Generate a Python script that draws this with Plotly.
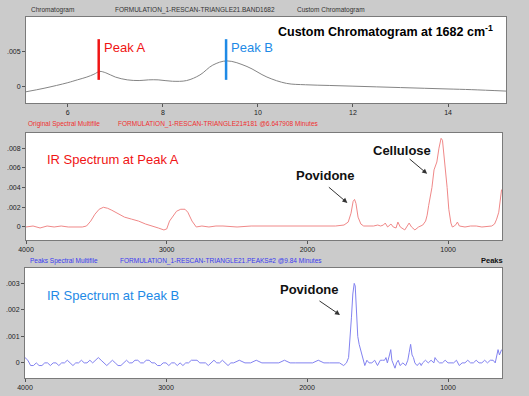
import plotly.graph_objects as go

W, H = 529, 396

# ---------------- data ----------------
chrom_time = [5.12, 5.5, 6.0, 6.2, 6.4, 6.55, 6.67, 6.8, 7.0, 7.25, 7.5, 7.7, 7.9, 8.2, 8.5, 8.78,
              9.05, 9.35, 9.77, 10.19, 10.6, 11.0, 11.5, 12.0, 12.5, 13.0, 13.5, 14.0, 14.5, 15.22]
chrom_abs = [-0.0008, -0.0003, 0.0005, 0.0009, 0.0013, 0.0017, 0.0021, 0.0019, 0.0013, 0.0009, 0.0008,
             0.0009, 0.0009, 0.0007, 0.0008, 0.0016, 0.0030, 0.0036, 0.0028, 0.0013, 0.0004, 0.0002,
             0.0001, 0.0000, -0.0001, -0.0002, -0.0003, -0.0004, -0.0005, -0.0007]

peak_labels = ["Peak A", "Peak B"]
peak_times = [6.65, 9.33]
peak_colors = ["#f01414", "#1e8ae6"]
peak_marker_lo, peak_marker_hi = 0.0009, 0.0067

specA_wn = [4000, 3950, 3900, 3850, 3800, 3750, 3700, 3650, 3600, 3570, 3540, 3510, 3480, 3450, 3420,
            3390, 3350, 3300, 3250, 3200, 3150, 3100, 3060, 3020, 3000, 2980, 2960, 2930, 2900, 2870,
            2850, 2820, 2790, 2750, 2700, 2650, 2600, 2500, 2400, 2300, 2200, 2100, 2000, 1900, 1800,
            1740, 1710, 1690, 1675, 1665, 1655, 1640, 1620, 1600, 1560, 1530, 1500, 1480, 1460, 1447,
            1430, 1406, 1390, 1370, 1357, 1340, 1308, 1290, 1277, 1260, 1236, 1210, 1180, 1160, 1149,
            1138, 1128, 1115, 1100, 1092, 1080, 1065, 1050, 1040, 1030, 1015, 1007, 995, 980, 970,
            955, 942, 934, 920, 880, 840, 800, 760, 720, 690, 670, 655, 640, 630, 620]
specA_abs = [0.0000, 0.0001, -0.0001, 0.0001, 0.0000, 0.0001, 0.0000, 0.0000, 0.0000, 0.0001, 0.0006,
             0.0013, 0.0018, 0.0020, 0.0019, 0.0017, 0.0014, 0.0010, 0.0008, 0.0006, 0.0003, 0.0001,
             -0.0001, -0.0003, -0.0002, 0.0006, 0.0010, 0.0016, 0.0018, 0.0018, 0.0015, 0.0006, 0.0000,
             0.0001, 0.0000, 0.0001, 0.0001, 0.0000, 0.0001, 0.0001, 0.0001, 0.0001, 0.0001, 0.0001,
             0.0001, 0.0002, 0.0005, 0.0014, 0.0026, 0.0028, 0.0024, 0.0010, 0.0003, 0.0001, 0.0001,
             0.0001, 0.0002, 0.0001, 0.0002, 0.0004, 0.0000, 0.0003, 0.0000, -0.0001, 0.0005, 0.0000,
             -0.0003, 0.0001, 0.0004, 0.0000, -0.0003, 0.0000, 0.0002, 0.0006, 0.0012, 0.0022, 0.0030,
             0.0040, 0.0058, 0.0062, 0.0066, 0.0080, 0.0090, 0.0088, 0.0075, 0.0055, 0.0040, 0.0018,
             0.0004, 0.0000, 0.0001, 0.0003, 0.0005, 0.0001, 0.0000, 0.0001, 0.0001, 0.0000, 0.0001,
             0.0001, 0.0003, 0.0008, 0.0015, 0.0025, 0.0038]

specB_wn = [4000, 3980, 3960, 3940, 3920, 3900, 3880, 3860, 3840, 3820, 3800, 3780, 3760, 3740, 3720,
            3700, 3680, 3660, 3640, 3620, 3600, 3580, 3560, 3540, 3520, 3500, 3480, 3460, 3440, 3420,
            3400, 3380, 3360, 3340, 3320, 3300, 3280, 3260, 3240, 3220, 3200, 3180, 3160, 3140, 3120,
            3100, 3080, 3060, 3040, 3020, 3000, 2980, 2960, 2940, 2920, 2900, 2880, 2860, 2840, 2820,
            2800, 2780, 2760, 2740, 2720, 2700, 2680, 2660, 2640, 2620, 2600, 2580, 2560, 2540, 2520,
            2480, 2440, 2400, 2360, 2320, 2280, 2240, 2200, 2160, 2120, 2080, 2040, 2000, 1960, 1920,
            1880, 1840, 1800, 1770, 1740, 1720, 1705, 1695, 1685, 1675, 1665, 1658, 1650, 1640, 1630,
            1620, 1610, 1600, 1590, 1575, 1560, 1540, 1520, 1500, 1480, 1465, 1450, 1440, 1430, 1415,
            1406, 1398, 1385, 1376, 1365, 1353, 1340, 1320, 1300, 1285, 1275, 1265, 1255, 1245, 1235,
            1220, 1200, 1190, 1180, 1160, 1140, 1120, 1100, 1092, 1080, 1060, 1040, 1020, 1000, 980,
            960, 940, 920, 900, 880, 860, 840, 820, 800, 780, 760, 740, 720, 700, 680, 665, 655,
            645, 635, 625, 620]
specB_abs = [0.0002, 0.0001, -0.0001, -0.0001, 0.0000, -0.0001, -0.0001, 0.0000, 0.0000, -0.0001,
             0.0000, 0.0000, -0.0001, 0.0000, 0.0000, 0.0001, 0.0000, -0.0001, 0.0000, 0.0000, 0.0001,
             0.0000, 0.0000, 0.0001, 0.0000, 0.0001, 0.0002, 0.0001, 0.0000, -0.0001, 0.0000, 0.0001,
             0.0000, -0.0001, -0.0001, 0.0000, 0.0001, 0.0000, 0.0000, 0.0001, 0.0001, 0.0000, 0.0000,
             0.0001, 0.0001, 0.0000, 0.0000, -0.0001, -0.0001, 0.0000, 0.0000, -0.0001, 0.0000, 0.0000,
             -0.0001, 0.0000, -0.0001, 0.0000, 0.0000, 0.0001, 0.0001, 0.0001, 0.0000, 0.0000, 0.0000,
             -0.0001, 0.0000, 0.0001, 0.0000, 0.0000, 0.0001, 0.0000, -0.0001, 0.0000, 0.0000, 0.0001,
             0.0000, 0.0000, 0.0001, 0.0000, 0.0000, 0.0000, 0.0000, 0.0001, 0.0000, 0.0000, 0.0000,
             0.0000, 0.0000, 0.0001, 0.0000, 0.0000, 0.0000, 0.0000, -0.0001, 0.0000, 0.0002, 0.0008,
             0.0017, 0.0026, 0.0030, 0.0029, 0.0020, 0.0010, 0.0007, 0.0005, 0.0002, 0.0000, -0.0001,
             0.0001, 0.0000, 0.0000, 0.0001, -0.0001, 0.0001, 0.0001, 0.0001, 0.0002, 0.0000, 0.0003,
             0.0005, 0.0001, -0.0001, -0.0002, 0.0000, 0.0001, -0.0001, 0.0000, -0.0001, 0.0001, 0.0004,
             0.0007, 0.0003, 0.0002, 0.0000, -0.0001, 0.0000, -0.0001, 0.0000, 0.0001, 0.0000, 0.0001,
             0.0000, 0.0002, 0.0001, 0.0000, 0.0000, 0.0001, 0.0000, 0.0000, 0.0000, 0.0001, -0.0001,
             0.0000, 0.0000, 0.0001, 0.0000, 0.0000, 0.0001, 0.0000, 0.0000, 0.0001, 0.0000, 0.0001,
             0.0001, 0.0000, 0.0002, 0.0005, 0.0003, 0.0005, 0.0005]

chrom_xticks = [6, 8, 10, 12, 14]
chrom_yticks = [0, 0.005]
chrom_yticktext = ["0", ".005"]
specA_yticks = [0, 0.002, 0.004, 0.006, 0.008]
specA_yticktext = ["0", ".002", ".004", ".006", ".008"]
specB_yticks = [0, 0.001, 0.002, 0.003]
specB_yticktext = ["0", ".001", ".002", ".003"]
wn_ticks = [4000, 3000, 2000, 1000]

# ---------------- figure ----------------
FONT = "Liberation Sans, Arial, sans-serif"
fig = go.Figure()

fig.add_trace(go.Scatter(x=chrom_time, y=chrom_abs, mode="lines", line=dict(color="#858585", width=1, shape="spline"),
                         xaxis="x", yaxis="y", showlegend=False))
fig.add_trace(go.Scatter(x=specA_wn, y=specA_abs, mode="lines", line=dict(color="#f08888", width=1),
                         xaxis="x2", yaxis="y2", showlegend=False))
fig.add_trace(go.Scatter(x=specB_wn, y=specB_abs, mode="lines", line=dict(color="#8282f0", width=1),
                         xaxis="x3", yaxis="y3", showlegend=False))

for t, c in zip(peak_times, peak_colors):
    fig.add_trace(go.Scatter(x=[t, t], y=[peak_marker_lo, peak_marker_hi], mode="lines",
                             line=dict(color=c, width=2.5), xaxis="x", yaxis="y", showlegend=False))

def px(x):
    return x / W

def py(y):
    return 1 - y / H

axis_common = dict(showgrid=False, zeroline=False, showline=True, linecolor="#7a7a7a", linewidth=1,
                   mirror=True, ticks="outside", ticklen=3, tickcolor="#555", automargin=False,
                   tickfont=dict(family=FONT, size=7, color="#222"))

fig.update_layout(
    width=W, height=H, autosize=False,
    margin=dict(l=0, r=0, t=0, b=0),
    paper_bgcolor="#cbcbcb", plot_bgcolor="#ffffff",
    xaxis=dict(domain=[px(26), px(506)], range=[5.12, 15.22], tickvals=chrom_xticks, anchor="y", **axis_common),
    yaxis=dict(domain=[py(103), py(17)], range=[-0.0024, 0.00986], tickvals=chrom_yticks,
               ticktext=chrom_yticktext, anchor="x", **axis_common),
    xaxis2=dict(domain=[px(26), px(502)], range=[4000, 617], tickvals=wn_ticks, anchor="y2", **axis_common),
    yaxis2=dict(domain=[py(240), py(133)], range=[-0.00132, 0.00954], tickvals=specA_yticks,
                ticktext=specA_yticktext, anchor="x2", **axis_common),
    xaxis3=dict(domain=[px(25), px(502)], range=[4000, 617], tickvals=wn_ticks, anchor="y3", **axis_common),
    yaxis3=dict(domain=[py(378), py(268)], range=[-0.00057, 0.00358], tickvals=specB_yticks,
                ticktext=specB_yticktext, anchor="x3", **axis_common),
)

ann = []
def text(x, y, s, size, color, bold=False, xanchor="left"):
    ann.append(dict(x=px(x), y=py(y), xref="paper", yref="paper", text=(f"<b>{s}</b>" if bold else s),
                    showarrow=False, xanchor=xanchor, yanchor="middle",
                    font=dict(family=FONT, size=size, color=color)))

# headers
text(29, 10, "Chromatogram", 6.5, "#333")
text(113, 10, "FORMULATION_1-RESCAN-TRIANGLE21.BAND1682", 6.5, "#333")
text(295, 10, "Custom Chromatogram", 6.5, "#333")
text(26, 124, "Original Spectral Multifile", 6.5, "#f03030")
text(116, 124, "FORMULATION_1-RESCAN-TRIANGLE21#181 @6.647908 Minutes", 6.5, "#f03030")
text(28, 261, "Peaks Spectral Multifile", 6.5, "#3a3af0")
text(118, 261, "FORMULATION_1-RESCAN-TRIANGLE21.PEAKS#2 @9.84 Minutes", 6.5, "#3a3af0")
text(505, 260, "Peaks", 7.5, "#111", bold=True, xanchor="right")

# titles
text(495, 31, "Custom Chromatogram at 1682 cm<sup>-1</sup>", 12.5, "#000", bold=True, xanchor="right")
text(45, 160, "IR Spectrum at Peak A", 13, "#f01414")
text(45, 295, "IR Spectrum at Peak B", 13, "#1e8ae6")

# peak labels next to the marker lines
for lab, t, c in zip(peak_labels, peak_times, peak_colors):
    ann.append(dict(x=t, y=peak_marker_hi, xref="x", yref="y", text=lab, showarrow=False,
                    xanchor="left", yanchor="top", xshift=3, yshift=1,
                    font=dict(family=FONT, size=13, color=c)))

# component labels with arrows
def arrow(x, y, xr, yr, ax, ay):
    ann.append(dict(x=x, y=y, xref=xr, yref=yr, ax=ax, ay=ay, axref="pixel", ayref="pixel",
                    text="", showarrow=True, arrowhead=2, arrowsize=1, arrowwidth=1, arrowcolor="#333"))

def lab(x, y, xr, yr, s, yshift):
    ann.append(dict(x=x, y=y, xref=xr, yref=yr, text=f"<b>{s}</b>", showarrow=False,
                    xanchor="center", yanchor="middle", yshift=yshift,
                    font=dict(family=FONT, size=13, color="#111")))

arrow(1716, 0.00244, "x2", "y2", -20, -17)
lab(1868, 0.00244, "x2", "y2", "Povidone", 27)
arrow(1149, 0.0054, "x2", "y2", -19, -16)
lab(1330, 0.0054, "x2", "y2", "Cellulose", 23)
arrow(1766, 0.00181, "x3", "y3", -22, -15)
lab(1980, 0.00181, "x3", "y3", "Povidone", 25)

fig.update_layout(annotations=ann)
fig.write_html("out.html", config={"displayModeBar": False},
               post_script="document.body.style.margin='0';document.body.style.padding='0';document.body.style.overflow='hidden';")
